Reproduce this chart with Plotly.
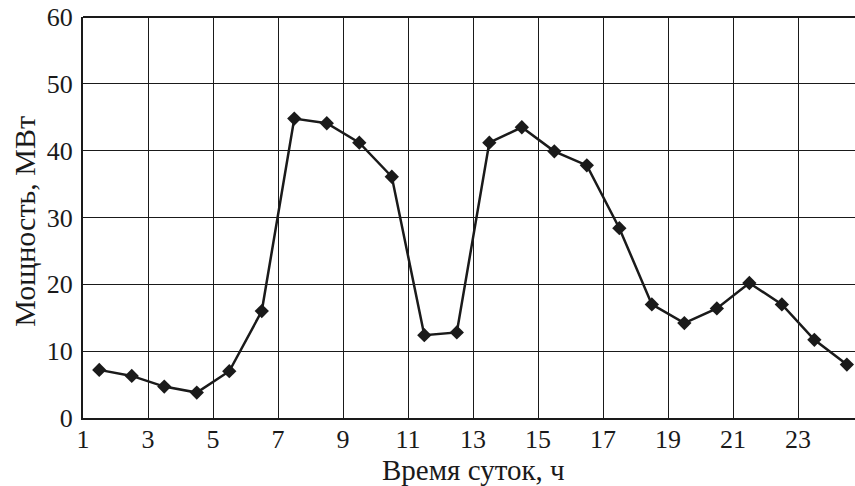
import plotly.graph_objects as go

hours = [1.5, 2.5, 3.5, 4.5, 5.5, 6.5, 7.5, 8.5, 9.5, 10.5, 11.5, 12.5,
         13.5, 14.5, 15.5, 16.5, 17.5, 18.5, 19.5, 20.5, 21.5, 22.5, 23.5, 24.5]
power = [7.2, 6.3, 4.7, 3.8, 7.0, 16.0, 44.8, 44.1, 41.2, 36.1, 12.4, 12.8,
         41.2, 43.5, 39.9, 37.8, 28.4, 17.0, 14.2, 16.4, 20.2, 17.0, 11.7, 8.0]
x_ticks = [1, 3, 5, 7, 9, 11, 13, 15, 17, 19, 21, 23]
y_ticks = [0, 10, 20, 30, 40, 50, 60]
x_title = "Время суток, ч"
y_title = "Мощность, МВт"

font_family = "Liberation Serif, Times New Roman, serif"
ink = "#1a1a1a"

fig = go.Figure()
fig.add_trace(go.Scatter(
    x=hours, y=power, mode="lines+markers",
    line=dict(color=ink, width=2.5),
    marker=dict(symbol="diamond", size=11, color=ink),
    showlegend=False, hoverinfo="skip", cliponaxis=False,
))

fig.update_layout(
    width=855, height=486,
    margin=dict(l=83, r=0, t=17, b=68),
    paper_bgcolor="white", plot_bgcolor="white",
    font=dict(family=font_family, size=26, color=ink),
    xaxis=dict(
        range=[1, 24.75], tickvals=x_ticks, ticktext=[str(v) for v in x_ticks],
        showgrid=True, gridcolor=ink, gridwidth=1.3,
        showline=True, linecolor=ink, linewidth=2,
        ticks="", zeroline=False, automargin=False, ticklabeloverflow="allow",
        ticklabelstandoff=-3,
        tickfont=dict(size=26, family=font_family, color=ink),
    ),
    yaxis=dict(
        range=[0, 60], tickvals=y_ticks,
        showgrid=True, gridcolor=ink, gridwidth=1.3,
        showline=True, linecolor=ink, linewidth=2,
        ticks="", zeroline=False, automargin=False, ticklabelstandoff=3,
        ticklabeloverflow="allow",
        tickfont=dict(size=26, family=font_family, color=ink),
    ),
    shapes=[dict(type="line", xref="paper", yref="paper", x0=0, x1=1, y0=1, y1=1,
                 layer="above", line=dict(color=ink, width=2))],
    annotations=[
        dict(text=x_title, xref="x", yref="paper", x=13, y=-0.13,
             xanchor="center", yanchor="middle", showarrow=False,
             font=dict(size=29, family=font_family, color=ink)),
        dict(text=y_title, xref="paper", yref="paper", x=-0.0758, y=0.4907,
             xanchor="center", yanchor="middle", textangle=-90, showarrow=False,
             font=dict(size=30, family=font_family, color=ink)),
    ],
)

# remove the browser's default 8px body margin so the figure fills the window exactly
fig.write_html("out.html", config={"displayModeBar": False},
               post_script="document.body.style.margin='0px';")
